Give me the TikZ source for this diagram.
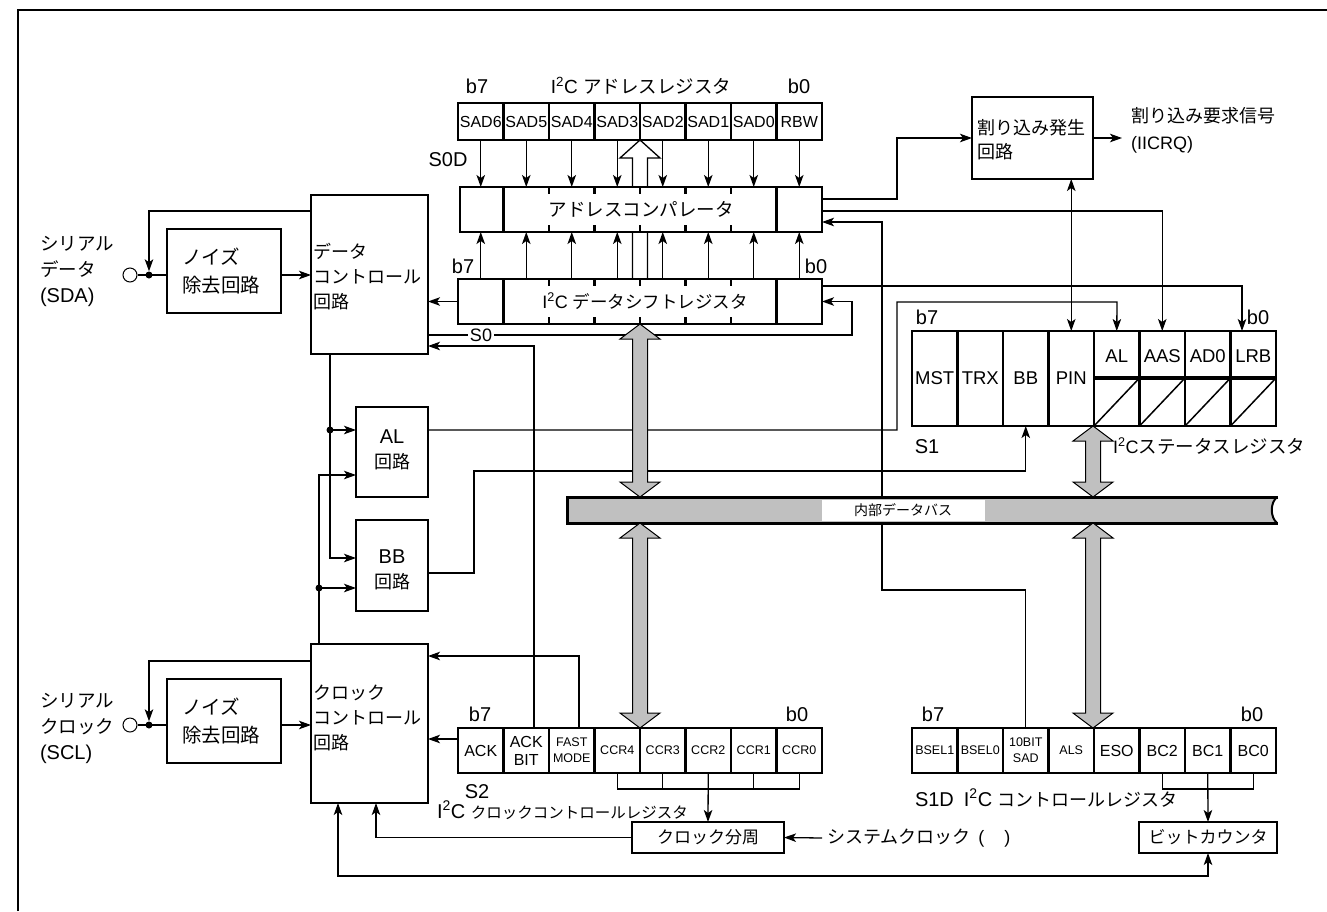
\documentclass[tikz,border=0pt]{standalone}
\usepackage{fontspec}
\setmainfont{Liberation Sans}
\newfontfamily\jp{Noto Sans CJK JP}
\usetikzlibrary{arrows.meta,calc}
\definecolor{busgray}{HTML}{C0C0C0}
\newcommand\grayarr[3]{%
 \filldraw[fill=busgray,draw=black,line width=1pt] (#1,#2) -- ({#1+20},{#2+15}) -- ({#1+7.5},{#2+15}) -- ({#1+7.5},{#3-15}) -- ({#1+20},{#3-15}) -- (#1,#3) -- ({#1-20},{#3-15}) -- ({#1-7.5},{#3-15}) -- ({#1-7.5},{#2+15}) -- ({#1-20},{#2+15}) -- cycle;}
\begin{document}
\begin{tikzpicture}[x=1pt,y=-1pt,
 ln/.style={line width=1.3pt},
 arr/.style={ln,-{Stealth[length=12pt,width=8.5pt,inset=3pt]}},
 darr/.style={ln,{Stealth[length=12pt,width=8.5pt,inset=3pt]}-{Stealth[length=12pt,width=8.5pt,inset=3pt]}},
 blk/.style={draw,line width=2.4pt,fill=white,inner sep=0pt,outer sep=0pt,anchor=north west},
 cell/.style={draw,line width=2.4pt,fill=white,inner sep=0pt,outer sep=0pt,anchor=north west,minimum width=45.5pt,align=center},
 txt/.style={inner sep=0pt,outer sep=0pt,font=\fontsize{18}{22}\selectfont},
 big/.style={inner sep=0pt,outer sep=0pt,font=\fontsize{20}{22}\selectfont},
 jtxt/.style={inner sep=0pt,outer sep=0pt,font=\jp\fontsize{18}{25}\selectfont},
 dot/.style={circle,fill,inner sep=0pt,minimum size=7pt},
 pin/.style={circle,draw,line width=1pt,fill=white,inner sep=0pt,minimum size=14pt},
 tick/.style={line width=2.4pt},
]
\useasboundingbox (0,0) rectangle (1327,911);
\draw[line width=2pt] (18,911) -- (18,10) -- (1327,10);

% hollow arrow (behind comparator)
\draw[ln,fill=white] (632.5,279) -- (632.5,158) -- (620,158) -- (640,140) -- (660,158) -- (647.5,158) -- (647.5,279);

% ---------- boxes ----------
\node[blk,minimum width=114pt,minimum height=84pt] (sdanf) at (167,229) {};
\node[blk,minimum width=114pt,minimum height=84pt] (sclnf) at (167,679) {};
\node[blk,minimum width=117pt,minimum height=159pt] (dc) at (311,195) {};
\node[blk,minimum width=117pt,minimum height=159pt] (cc) at (311,644) {};
\node[blk,minimum width=72pt,minimum height=90pt] (alc) at (356,407) {};
\node[blk,minimum width=72pt,minimum height=91pt] (bbc) at (356,520) {};
\node[blk,minimum width=121pt,minimum height=82pt] (irq) at (972,97) {};
\node[blk,minimum width=152pt,minimum height=31pt] (cdiv) at (632,822) {};
\node[blk,minimum width=138pt,minimum height=31pt] (bcnt) at (1139,822) {};

% ---------- S0D address register ----------
\foreach \l [count=\i from 0] in {SAD6,SAD5,SAD4,SAD3,SAD2,SAD1,SAD0,RBW}
  \node[cell,minimum height=37pt,font=\fontsize{16}{18}\selectfont] (a\i) at ({458+45.5*\i},103) {\l};

% comparator & shift register
\node[blk,minimum width=362pt,minimum height=45pt] (cmp) at (460,187) {};
\node[blk,minimum width=364pt,minimum height=45pt] (sr) at (458,279) {};
\foreach \x in {503.5,776.5} { \draw[tick] (\x,187) -- (\x,232); \draw[tick] (\x,279) -- (\x,324); }
\foreach \k in {2,...,6} {
  \draw[tick] ({458+45.5*\k},187) -- ++(0,7);
  \draw[tick] ({458+45.5*\k},232) -- ++(0,-7);
  \draw[tick] ({458+45.5*\k},279) -- ++(0,7);
  \draw[tick] ({458+45.5*\k},324) -- ++(0,-7);
}

% ---------- S1 status register ----------
\foreach \l [count=\i from 0] in {MST,TRX,BB,PIN,{},{},{},{}}
  \node[cell,minimum height=95pt,font=\fontsize{18.5}{20}\selectfont] (s1c\i) at ({912+45.5*\i},331) {\l};
\draw[line width=3.2pt] (s1c4.west |- 0,378) -- (s1c7.east |- 0,378);
\foreach \i in {4,...,7} \draw[line width=1.5pt] (s1c\i.south west) -- (s1c\i.east |- 0,378);
\foreach \l [count=\i from 4] in {AL,AAS,AD0,LRB}
  \node[txt,font=\fontsize{18.5}{20}\selectfont] (s1l\i) at ({912+45.5*(\i+0.5)},356) {\l};

% ---------- S2 clock control register ----------
\foreach \i in {0,...,7} \node[cell,minimum height=45pt] (s2c\i) at ({458+45.5*\i},728) {};
\node[txt,font=\fontsize{16}{17}\selectfont] (s2l0) at (s2c0) {ACK};
\node[txt,align=center,font=\fontsize{16}{18}\selectfont] (s2l1) at (s2c1) {ACK\\BIT};
\node[txt,align=center,font=\fontsize{12.5}{16}\selectfont] (s2l2) at (s2c2) {FAST\\MODE};
\foreach \l [count=\i from 3] in {CCR4,CCR3,CCR2,CCR1,CCR0}
  \node[txt,font=\fontsize{12.5}{14}\selectfont] (s2l\i) at (s2c\i) {\l};

% ---------- S1D control register ----------
\foreach \i in {0,...,7} \node[cell,minimum height=45pt] (s1dc\i) at ({912+45.5*\i},728) {};
\node[txt,font=\fontsize{12.5}{14}\selectfont] (s1dl0) at (s1dc0) {BSEL1};
\node[txt,font=\fontsize{12.5}{14}\selectfont] (s1dl1) at (s1dc1) {BSEL0};
\node[txt,align=center,font=\fontsize{12.5}{16}\selectfont] (s1dl2) at (s1dc2) {10BIT\\SAD};
\node[txt,font=\fontsize{12.5}{14}\selectfont] (s1dl3) at (s1dc3) {ALS};
\foreach \l [count=\i from 4] in {ESO,BC2,BC1,BC0}
  \node[txt,font=\fontsize{16}{18}\selectfont] (s1dl\i) at (s1dc\i) {\l};

% ---------- pins & dots ----------
\node[pin] (sdapin) at (130,275) {};
\node[dot] (sdadot) at (149,275) {};
\node[pin] (sclpin) at (130,725) {};
\node[dot] (scldot) at (149,725) {};
\node[dot] (d1) at (330,430) {};
\node[dot] (d2) at (319,588) {};

% ---------- connectors ----------
\draw[ln] (sdapin.east) -- (sdanf.west |- sdapin.east);
\draw[arr] (sdanf.east |- 0,275) -- (dc.west |- 0,275);
\draw[arr] (dc.west |- 0,211) -| (sdadot.north);
\draw[ln] (sclpin.east) -- (sclnf.west |- sclpin.east);
\draw[arr] (sclnf.east |- 0,725) -- (cc.west |- 0,725);
\draw[arr] (cc.west |- 0,661) -| (scldot.north);

\foreach \i in {0,...,7} {
  \draw[arr] (a\i.south) -- (a\i.south |- cmp.north);
  \draw[arr] (a\i.south |- sr.north) -- (a\i.south |- cmp.south);
}
\draw[arr] (sr.west) -- (sr.west -| dc.east);
\draw[arr] (dc.east |- 0,335) -- (852,335) |- (sr.east);
\draw[arr] (s2c1.north -| 534,0) |- (dc.east |- 0,346);
\draw[arr] (sr.east |- 0,286) -| (s1c7.north -| 1242,0);
\draw[arr] (cmp.east |- 0,199) -- (897,199) |- (irq.west);
\draw[arr] (cmp.east |- 0,211) -| (s1c5.north);
\draw[arr] (s1dc2.north) |- (882,590) |- (cmp.east |- 0,222);
\draw[darr] (s1c3.north |- irq.south) -- (s1c3.north);
\draw[arr] (alc.east |- 0,430) -- (897,430) |- (1117,302) -- (s1c4.north);
\draw[arr] (bbc.east |- 0,573) -- (474,573) |- (s1c2.south |- 0,471) -- (s1c2.south);
\draw[arr] (dc.south -| 330,0) |- (bbc.west |- 0,558);
\draw[arr] (d1.center) -- (alc.west |- d1.center);
\draw[arr] (cc.north -| 319,0) |- (alc.west |- 0,475);
\draw[arr] (d2.center) -- (bbc.west |- d2.center);
\draw[arr] (s2c0.west |- 0,739) -- (cc.east |- 0,739);
\draw[arr] (s2c2.north -| 579,0) |- (cc.east |- 0,656);
\draw[ln] (s2c3.south) |- (s2c7.south |- 0,789) -- (s2c7.south);
\foreach \i in {4,6} \draw[ln] (s2c\i.south) -- (s2c\i.south |- 0,789);
\draw[arr] (s2c5.south) -- (cdiv.north);
\draw[arr] (cdiv.west) -| (cc.south -| 376,0);
\draw[ln] (s1dc5.south) |- (s1dc7.south |- 0,789) -- (s1dc7.south);
\draw[arr] (s1dc6.south) -- (bcnt.north);
\draw[darr] (cc.south -| 338,0) |- (bcnt.south |- 0,876) -- (bcnt.south);

% ---------- internal data bus ----------
\fill[busgray] (567,497) -- (1277,497) .. controls (1270,503) and (1270,517) .. (1277,523) -- (567,523) -- cycle;
\fill[white] (822,499.5) rectangle (985,520.5);
\draw[line width=3pt] (1278,497) -- (567,497) -- (567,523) -- (1278,523);
\draw[line width=2pt] (1277,497) .. controls (1270,503) and (1270,517) .. (1277,523);
\node[jtxt,font=\jp\fontsize{14}{16}\selectfont] (bus) at (903,510) {内部データバス};

\grayarr{640}{324}{497}
\grayarr{640}{523}{728}
\grayarr{1093}{426}{497}
\grayarr{1093}{523}{728}

% ---------- labels ----------
\node[big,anchor=base] (lb7a) at (477,93) {b7};
\node[txt,anchor=base] (ltsad) at (641,93) {\fontsize{19}{22}\selectfont I\textsuperscript{2}C {\jp\fontsize{18.5}{22}\selectfont アドレスレジスタ}};
\node[big,anchor=base] (lb0a) at (799,93) {b0};
\node[big,anchor=base] (ls0d) at (448,166) {S0D};
\node[big,anchor=base] (lb7s) at (463,273) {b7};
\node[big,anchor=base] (lb0s) at (816,273) {b0};
\node[jtxt,font=\jp\fontsize{18.5}{25}\selectfont] (lcmp) at (641,209) {アドレスコンパレータ};
\node[txt] (lsr) at (645,301) {I\textsuperscript{2}C {\jp\fontsize{17.5}{20}\selectfont データシフトレジスタ}};
\node[txt,fill=white,inner sep=1.5pt,font=\fontsize{18}{18}\selectfont] (ls0) at (481,335) {S0};

\node[big,anchor=base] (lb7st) at (927,324) {b7};
\node[big,anchor=base] (lb0st) at (1258,324) {b0};
\node[big,anchor=base] (ls1) at (927,453) {S1};
\node[txt,anchor=base west] (lst) at (1113,453) {I\textsuperscript{2}C{\jp\fontsize{18.5}{22}\selectfont ステータスレジスタ}};

\node[big,anchor=base] (lb7c) at (480,721) {b7};
\node[big,anchor=base] (lb0c) at (797,721) {b0};
\node[big,anchor=base] (ls2) at (477,798) {S2};
\node[big,anchor=base west] (lccr) at (437,818) {I\textsuperscript{2}C {\jp\fontsize{15.5}{18}\selectfont クロックコントロールレジスタ}};

\node[big,anchor=base] (lb7d) at (933,721) {b7};
\node[big,anchor=base] (lb0d) at (1252,721) {b0};
\node[big,anchor=base west] (ls1d) at (915,806) {S1D\hspace{10pt}I\textsuperscript{2}C {\jp\fontsize{18}{22}\selectfont コントロールレジスタ}};

\node[txt,align=left,anchor=west,font=\fontsize{20}{26}\selectfont] (lsda) at (40,271) {{\jp\fontsize{18.5}{26}\selectfont シリアル}\\{\jp\fontsize{18.5}{26}\selectfont データ}\\(SDA)};
\node[txt,align=left,anchor=west,font=\fontsize{20}{26}\selectfont] (lscl) at (40,728) {{\jp\fontsize{18.5}{26}\selectfont シリアル}\\{\jp\fontsize{18.5}{26}\selectfont クロック}\\(SCL)};
\node[jtxt,align=left,anchor=west,font=\jp\fontsize{19.5}{28}\selectfont] (lnf1) at (182,271) {ノイズ\\除去回路};
\node[jtxt,align=left,anchor=west,font=\jp\fontsize{19.5}{28}\selectfont] (lnf2) at (182,721) {ノイズ\\除去回路};
\node[jtxt,align=left,anchor=west] (ldc) at (313,277) {データ\\コントロール\\回路};
\node[jtxt,align=left,anchor=west] (lcc) at (313,718) {クロック\\コントロール\\回路};
\node[txt,align=center,font=\fontsize{20}{25}\selectfont] (lal) at (392,450) {AL\\{\jp\fontsize{18}{25}\selectfont 回路}};
\node[txt,align=center,font=\fontsize{20}{25}\selectfont] (lbb) at (392,570) {BB\\{\jp\fontsize{18}{25}\selectfont 回路}};
\node[jtxt,align=left,anchor=west,font=\jp\fontsize{18}{24}\selectfont] (lirq) at (977,140) {割り込み発生\\回路};
\node[txt,align=left,anchor=west,font=\fontsize{18}{27}\selectfont] (irqout) at (1131,130) {{\jp 割り込み要求信号}\\(IICRQ)};
\draw[arr] (irq.east) -- ++(29,0);
\node[jtxt,font=\jp\fontsize{17}{20}\selectfont] (lcdiv) at (cdiv) {クロック分周};
\node[jtxt,font=\jp\fontsize{17}{20}\selectfont] (lbcnt) at (bcnt) {ビットカウンタ};
\node[txt,anchor=west] (sysclk) at (827,838) {{\jp システムクロック}\hspace{8pt}(\hspace{20pt})};
\draw[arr] ([xshift=-5pt]sysclk.west) -- (cdiv.east);
\end{tikzpicture}
\end{document}
